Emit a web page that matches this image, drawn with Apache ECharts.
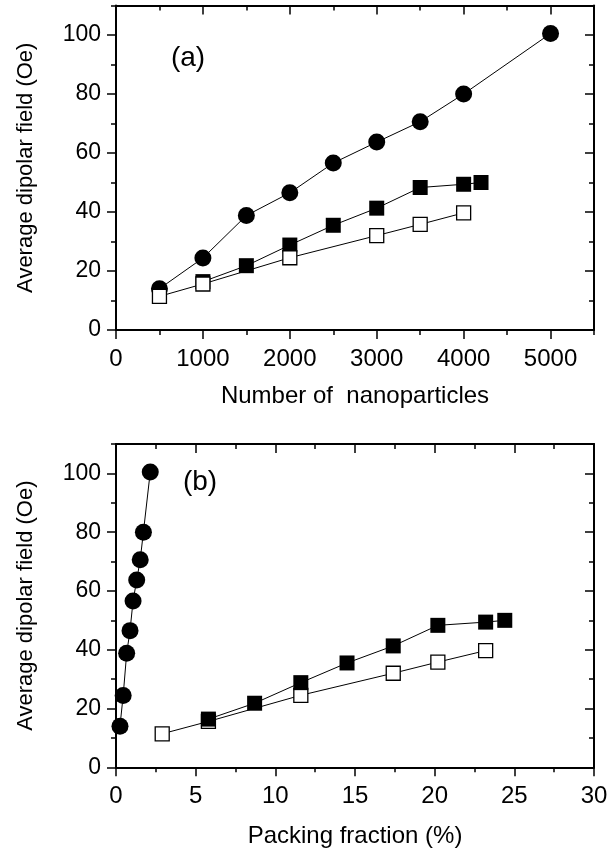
<!DOCTYPE html>
<html>
<head>
<meta charset="utf-8">
<script src="https://cdn.jsdelivr.net/npm/echarts@6/dist/echarts.min.js"></script>
<style>
  html, body { margin: 0; padding: 0; background: #fff; }
  #chart { width: 614px; height: 858px; }
</style>
</head>
<body>
<div id="chart"></div>
<script>
// Panel (a): field vs number of nanoparticles
const nCircle = [500, 1000, 1500, 2000, 2500, 3000, 3500, 4000, 5000];
const fieldCircle = [14, 24.4, 38.8, 46.5, 56.6, 63.7, 70.6, 80, 100.5];
const nFilled = [1000, 1500, 2000, 2500, 3000, 3500, 4000, 4200];
const fieldFilled = [16.4, 21.8, 28.8, 35.5, 41.3, 48.3, 49.4, 50.0];
const nOpen = [500, 1000, 2000, 3000, 3500, 4000];
const fieldOpen = [11.4, 15.6, 24.5, 32.0, 35.8, 39.7];

// Panel (b): field vs packing fraction (%)
const pfCircle = [0.25, 0.45, 0.67, 0.88, 1.07, 1.3, 1.52, 1.72, 2.15];
const pfFilled = [5.8, 8.7, 11.6, 14.5, 17.4, 20.2, 23.2, 24.4];
const pfOpen = [2.9, 5.8, 11.6, 17.4, 20.2, 23.2];

// Tick values
const ticksN = [0, 1000, 2000, 3000, 4000, 5000];
const minorN = [500, 1500, 2500, 3500, 4500, 5500];
const ticksPF = [0, 5, 10, 15, 20, 25, 30];
const minorPF = [2.5, 7.5, 12.5, 17.5, 22.5, 27.5];
const ticksField = [0, 20, 40, 60, 80, 100];
const minorField = [10, 30, 50, 70, 90, 110];

const FONT = 'Liberation Sans, Arial, sans-serif';
const BLACK = '#000';

function pairs(xs, ys) { return xs.map((x, i) => [x, ys[i]]); }

// Four axes per direction: main (labels + major ticks), minor ticks,
// mirrored main on the opposite side, mirrored minor (ticks inside).
function buildAxes(grid, dim, min, max, major, minor, name, nameGap) {
  const pos = dim === 'x' ? ['bottom', 'top'] : ['left', 'right'];
  const common = {
    type: 'value', gridIndex: grid, min: min, max: max,
    splitLine: { show: false },
    axisLine: { onZero: false, show: true, lineStyle: { color: BLACK, width: 2 } }
  };
  const tickStyle = { color: BLACK, width: 1.5 };
  return [
    Object.assign({}, common, {
      position: pos[0],
      name: name, nameLocation: 'middle', nameGap: nameGap,
      nameTextStyle: { fontFamily: FONT, fontSize: dim === 'x' ? 24 : 22, color: BLACK },
      axisTick: { show: true, length: 9, customValues: major, lineStyle: tickStyle },
      axisLabel: { show: true, customValues: major, margin: dim === 'x' ? 17 : 15,
                   formatter: v => String(v),
                   fontFamily: FONT, fontSize: dim === 'x' ? 24 : 23, color: BLACK }
    }),
    Object.assign({}, common, {
      position: pos[0],
      axisLine: { onZero: false, show: false },
      axisTick: { show: true, length: 5, customValues: minor, lineStyle: tickStyle },
      axisLabel: { show: false }
    }),
    Object.assign({}, common, {
      position: pos[1],
      axisTick: { show: true, inside: true, length: 9, customValues: major, lineStyle: tickStyle },
      axisLabel: { show: false }
    }),
    Object.assign({}, common, {
      position: pos[1],
      axisLine: { onZero: false, show: false },
      axisTick: { show: true, inside: true, length: 5, customValues: minor, lineStyle: tickStyle },
      axisLabel: { show: false }
    })
  ];
}

function series(xIdx, yIdx, data, kind, z) {
  const s = {
    type: 'line', xAxisIndex: xIdx, yAxisIndex: yIdx, data: data,
    showAllSymbol: true, z: z,
    lineStyle: { color: BLACK, width: 1 },
    emphasis: { disabled: true }
  };
  if (kind === 'circle') {
    s.symbol = 'circle'; s.symbolSize = 17;
    s.itemStyle = { color: BLACK, borderWidth: 0 };
  } else if (kind === 'filled') {
    s.symbol = 'rect'; s.symbolSize = 15;
    s.itemStyle = { color: BLACK, borderWidth: 0 };
  } else {
    s.symbol = 'rect'; s.symbolSize = 14;
    s.itemStyle = { color: '#fff', borderColor: BLACK, borderWidth: 1.3 };
  }
  return s;
}

const chart = echarts.init(document.getElementById('chart'), null, { renderer: 'canvas' });

const yName = 'Average dipolar field (Oe)';

const option = {
  animation: false,
  backgroundColor: '#fff',
  grid: [
    { left: 116, top: 5.5, width: 478, height: 324.5 },
    { left: 116, top: 444, width: 478, height: 323.3 }
  ],
  xAxis: [].concat(
    buildAxes(0, 'x', 0, 5500, ticksN, minorN, 'Number of  nanoparticles', 54),
    buildAxes(1, 'x', 0, 30, ticksPF, minorPF, 'Packing fraction (%)', 57)
  ),
  yAxis: [].concat(
    buildAxes(0, 'y', 0, 110, ticksField, minorField, yName, 79),
    buildAxes(1, 'y', 0, 110, ticksField, minorField, yName, 79)
  ),
  series: [
    series(0, 0, pairs(nCircle, fieldCircle), 'circle', 2),
    series(0, 0, pairs(nFilled, fieldFilled), 'filled', 3),
    series(0, 0, pairs(nOpen, fieldOpen), 'open', 4),
    series(4, 4, pairs(pfCircle, fieldCircle), 'circle', 2),
    series(4, 4, pairs(pfOpen, fieldOpen), 'open', 3),
    series(4, 4, pairs(pfFilled, fieldFilled), 'filled', 4)
  ],
  graphic: [
    { type: 'text', x: 188, y: 58, z: 10,
      style: { text: '(a)', fontFamily: FONT, fontSize: 28, fill: BLACK,
               align: 'center', verticalAlign: 'middle' } },
    { type: 'text', x: 200, y: 482, z: 10,
      style: { text: '(b)', fontFamily: FONT, fontSize: 28, fill: BLACK,
               align: 'center', verticalAlign: 'middle' } }
  ]
};

chart.setOption(option);
</script>
</body>
</html>
